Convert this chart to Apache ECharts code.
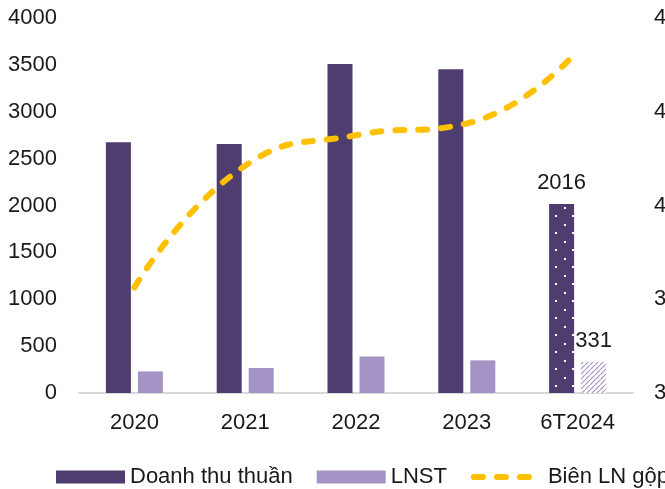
<!DOCTYPE html>
<html>
<head>
<meta charset="utf-8">
<script src="https://cdn.jsdelivr.net/npm/echarts@6/dist/echarts.min.js"></script>
<style>
  html, body { margin: 0; padding: 0; background: #fff; }
  #chart { width: 665px; height: 489px; }
</style>
</head>
<body>
<div id="chart"></div>
<script>
// doanh thu thuần / LNST / biên LN gộp

var categories = ['2020', '2021', '2022', '2023', '6T2024'];
var doanhThu = [2675, 2657, 3510, 3454, 2016];
var lnst = [230, 267, 390, 348, 331];
var bienLN = [36.5, 41.7, 43.0, 43.5, 46.6];

var DARK = '#4f3d70';
var LIGHT = '#a593c6';
var GOLD = '#ffc000';

// pattern cho cột 6T2024 (chấm trắng)
function dotPattern() {
    var c = document.createElement('canvas');
    c.width = 17; c.height = 17;
    var ctx = c.getContext('2d');
    ctx.fillStyle = DARK;
    ctx.fillRect(0, 0, 17, 17);
    ctx.fillStyle = '#ffffff';
    ctx.fillRect(3, 3, 2, 2);
    ctx.fillRect(11, 11, 2, 2);
    return c;
}

// pattern gạch chéo cho LNST 6T2024
function hatchPattern() {
    var c = document.createElement('canvas');
    c.width = 5; c.height = 5;
    var ctx = c.getContext('2d');
    ctx.fillStyle = '#ffffff';
    ctx.fillRect(0, 0, 5, 5);
    ctx.strokeStyle = LIGHT;
    ctx.lineWidth = 1.2;
    ctx.beginPath();
    ctx.moveTo(-1, 6); ctx.lineTo(6, -1);
    ctx.stroke();
    return c;
}

var dtData = doanhThu.map(function (v, i) {
    if (i === doanhThu.length - 1) {
        return {
            value: v,
            itemStyle: { color: { image: dotPattern(), repeat: 'repeat' } },
            label: { show: true }
        };
    }
    return v;
});
var lnData = lnst.map(function (v, i) {
    if (i === lnst.length - 1) {
        return {
            value: v,
            itemStyle: { color: { image: hatchPattern(), repeat: 'repeat' } },
            label: { show: true }
        };
    }
    return v;
});

var FONT = 'Liberation Sans';

var myChart = echarts.init(document.getElementById('chart'));
var option = {
    animation: false,
    grid: { left: 79, right: 32, top: 18, bottom: 96, containLabel: false, outerBoundsMode: 'none' },
    legend: {
        left: 51,
        top: 461,
        width: 800,
        itemWidth: 69,
        itemHeight: 13,
        itemGap: 24,
        textStyle: { fontFamily: FONT, fontSize: 22, color: '#1a1a1a' },
        data: [
            { name: 'Doanh thu thuần', icon: 'rect' },
            { name: 'LNST', icon: 'rect' },
            {
                name: 'Biên LN gộp',
                itemStyle: { opacity: 0 },
                lineStyle: { width: 6, type: [9, 14], cap: 'round', color: GOLD }
            }
        ]
    },
    xAxis: {
        type: 'category',
        data: categories,
        axisLine: { lineStyle: { color: '#d9d9d9', width: 2 } },
        axisTick: { show: false },
        axisLabel: { fontFamily: FONT, fontSize: 22, color: '#1a1a1a', margin: 19 }
    },
    yAxis: [{
        type: 'value',
        min: 0,
        max: 4000,
        interval: 500,
        splitLine: { show: false },
        axisLabel: {
            fontFamily: FONT, fontSize: 22, color: '#1a1a1a', margin: 22,
            formatter: function (v) { return String(v); }
        }
    }, {
        type: 'value',
        min: 32,
        max: 48,
        interval: 4,
        splitLine: { show: false },
        axisLabel: {
            fontFamily: FONT, fontSize: 22, color: '#1a1a1a', margin: 21,
            formatter: '{value}%'
        }
    }],
    series: [{
        name: 'Doanh thu thuần',
        type: 'bar',
        barWidth: 25,
        barGap: '28%',
        itemStyle: { color: DARK },
        label: {
            show: false,
            position: 'top',
            distance: 10,
            fontFamily: FONT,
            fontSize: 22,
            color: '#1a1a1a'
        },
        data: dtData
    }, {
        name: 'LNST',
        type: 'bar',
        barWidth: 25,
        itemStyle: { color: LIGHT },
        label: {
            show: false,
            position: 'top',
            distance: 10,
            fontFamily: FONT,
            fontSize: 22,
            color: '#1a1a1a'
        },
        data: lnData
    }, {
        name: 'Biên LN gộp',
        type: 'line',
        yAxisIndex: 1,
        smooth: 0.5,
        symbol: 'none',
        lineStyle: { color: GOLD, width: 6, type: [9, 14], cap: 'round' },
        itemStyle: { color: GOLD },
        data: bienLN
    }]
};
myChart.setOption(option);
window.addEventListener('resize', function () {
    myChart.resize();
});
</script>
</body>
</html>
